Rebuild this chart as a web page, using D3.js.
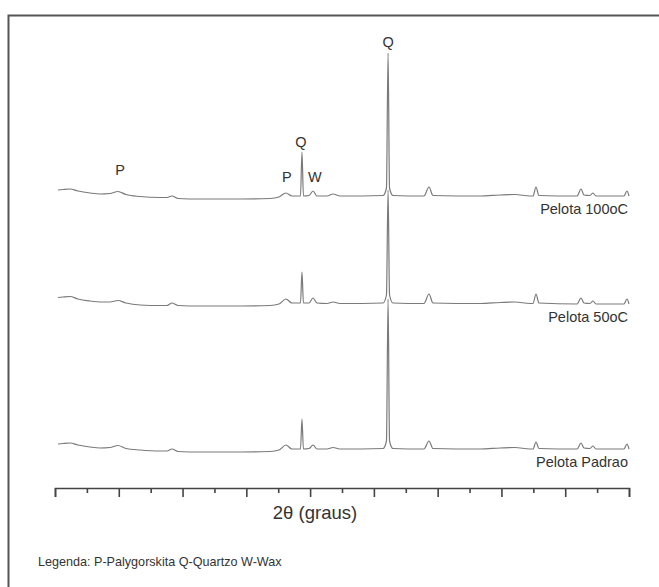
<!DOCTYPE html>
<html>
<head>
<meta charset="utf-8">
<script src="https://cdn.jsdelivr.net/npm/d3@7"></script>
<style>
  body { margin: 0; background: #fff; }
  text { font-family: "Liberation Sans", Arial, sans-serif; fill: #333; }
</style>
</head>
<body>
<div id="chart"></div>
<script>
// 2theta positions (degrees) shared by all three patterns
twoTheta = [4.20, 4.54, 5.02, 5.56, 6.38, 7.06, 7.74, 8.28, 8.82, 9.78,
    11.13, 11.61, 11.95, 12.36, 13.85, 16.57, 18.61, 19.22, 19.69, 20.10,
    20.68, 20.78, 20.88, 21.26, 21.53, 21.80, 22.48, 22.89, 23.36, 26.29,
    26.52, 26.63, 26.73, 26.96, 29.07, 29.41, 29.68, 32.88, 34.24, 35.25,
    36.27, 36.48, 36.68, 36.88, 39.47, 39.74, 39.94, 40.35, 40.55, 40.76,
    42.66, 42.86, 43.00];

// intensities (arbitrary units, relative to each pattern's baseline)
pelota100 = [6, 6.5, 7, 5, 3, 2, 2.5, 4.5, 1.5, -0.5,
    -1.5, -1.5, 0, -2.5, -3, -3, -2.5, -1, 3, 0,
    0, 44, 0, 0.5, 5, 0, 0, 2, 0, 0.5,
    8, 143, 8, 0.5, 0, 9, 0.5, 0, 1, 1.5,
    0, 0, 9, 0.5, 0, 7, 1, 0.5, 3, 0,
    0, 5, 0];
pelota50 = [6.5, 7, 7.5, 5, 3, 2, 2, 3.5, 1, -1,
    -1.5, -1.5, 1, -1.5, -2, -2, -1.5, 0, 5, 1,
    1, 32, 1, 1, 6, 1, 0.5, 2, 0.5, 1,
    9, 114, 9, 1, 0.5, 10, 1, 0.5, 1.5, 2,
    0.5, 0.5, 10, 1, 0, 6, 1, 0.5, 3, 0,
    0, 5, 0];
pelotaPadrao = [5, 5.5, 6, 4, 2, 1, 1.5, 3.5, 0.5, -1,
    -2, -2, 0, -2.5, -3, -3, -2.5, -1, 4, 0,
    0, 30, 0, 0.5, 4, 0, 0, 1.5, 0, 0.5,
    8, 150, 8, 0.5, 0, 8, 0.5, 0, 1, 1.5,
    0, 0, 7, 0.5, 0, 6, 1, 0.5, 3, 0,
    0, 5, 0];

seriesNames = ["Pelota 100oC", "Pelota 50oC", "Pelota Padrao"];
seriesValues = [pelota100, pelota50, pelotaPadrao];
seriesOffsets = [269, 161, 16];

// peak labels above the top pattern
peakLabels = ["P", "P", "Q", "W", "Q"];
peakAngles = [8.42, 19.76, 20.71, 21.66, 26.63];
peakLevels = [21, 14, 49, 14, 149];

xTitle = "2\u03b8 (graus)";
legendText = "Legenda: P-Palygorskita Q-Quartzo W-Wax";

width = 659
height = 587
axisY = 488

svg = d3.select("#chart").append("svg")
    .attr("width", width)
    .attr("height", height)

svg.append("rect")
    .attr("width", width)
    .attr("height", height)
    .attr("fill", "#fff")

// frame (runs off the right and bottom of the picture)
svg.append("rect")
    .attr("x", 8.5)
    .attr("y", 15.5)
    .attr("width", 700)
    .attr("height", 700)
    .attr("fill", "none")
    .attr("stroke", "#555")
    .attr("stroke-width", 2)

x = d3.scaleLinear().domain([4, 43]).range([55, 629]);
y = d3.scaleLinear().domain([0, 420]).range([465, 45]);

// patterns
line = d3.line()
    .x((d) => x(d[0]))
    .y((d) => y(d[1]))
    .curve(d3.curveMonotoneX)

seriesValues.forEach((vals, i) => {
    pts = twoTheta.map((t, j) => [t, vals[j] + seriesOffsets[i]]);
    svg.append("path")
        .datum(pts)
        .attr("d", line)
        .attr("fill", "none")
        .attr("stroke", "#7a7a7a")
        .attr("stroke-width", 1.2)
    svg.append("text")
        .text(seriesNames[i])
        .attr("x", x(43) - 1)
        .attr("y", y(seriesOffsets[i]) + 18)
        .style("text-anchor", "end")
        .style("font-size", "14.5px")
});

// peak labels
svg.selectAll(".peak")
    .data(peakLabels).enter()
    .append("text")
    .attr("class", "peak")
    .text((d) => d)
    .attr("x", (d, i) => x(peakAngles[i]))
    .attr("y", (d, i) => y(peakLevels[i] + seriesOffsets[0]))
    .style("text-anchor", "middle")
    .style("font-size", "14.5px")

// x axis: long and short ticks, no numbers
step = (43 - 4) / 18
majorTicks = d3.range(0, 19, 2).map((i) => 4 + i * step)
minorTicks = d3.range(1, 19, 2).map((i) => 4 + i * step)

major = svg.append("g")
    .attr("transform", "translate(0," + axisY + ")")
    .call(d3.axisBottom(x).tickValues(majorTicks).tickFormat("").tickSize(9).tickSizeOuter(9))
minor = svg.append("g")
    .attr("transform", "translate(0," + axisY + ")")
    .call(d3.axisBottom(x).tickValues(minorTicks).tickFormat("").tickSize(5))
minor.select(".domain").remove()
svg.selectAll(".domain, .tick line")
    .attr("stroke", "#444")
    .attr("stroke-width", 1.6)

svg.append("text")
    .text(xTitle)
    .attr("x", 315)
    .attr("y", 519)
    .style("text-anchor", "middle")
    .style("font-size", "18.5px")

svg.append("text")
    .text(legendText)
    .attr("x", 38)
    .attr("y", 566)
    .style("font-size", "12.6px")
</script>
</body>
</html>
